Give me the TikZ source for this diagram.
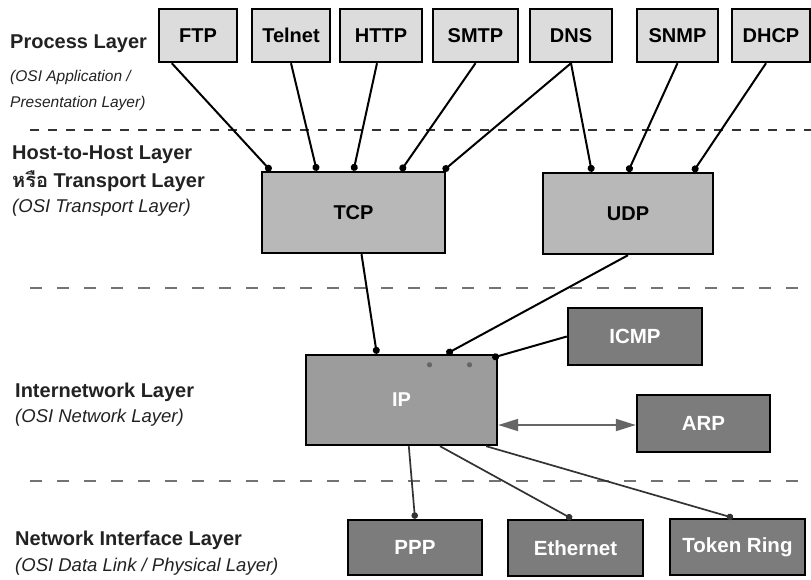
\documentclass[tikz,border=0pt]{standalone}
\usepackage{fontspec}
\setmainfont{Liberation Sans}
\newfontfamily\thaifont[Script=Thai]{Loma}
\usetikzlibrary{arrows.meta}
\definecolor{boxlight}{HTML}{DCDCDC}
\definecolor{boxmid}{HTML}{B8B8B8}
\definecolor{boxip}{HTML}{9C9C9C}
\definecolor{boxdark}{HTML}{7C7C7C}
\definecolor{labelink}{HTML}{222222}
\begin{document}
\begin{tikzpicture}[x=1pt,y=-1pt,
  box/.style={draw=black, line width=2.4pt, rectangle, inner sep=0pt,
    font=\fontsize{20}{23}\selectfont\bfseries},
  proto/.style={box, fill=boxlight, minimum height=53pt},
  transport/.style={box, fill=boxmid, minimum height=81pt},
  netbox/.style={box, fill=boxdark, text=white, minimum height=56pt,
    font=\fontsize{20.5}{23}\selectfont\bfseries},
  layername/.style={anchor=west, inner sep=0pt, text=labelink,
    font=\fontsize{20}{23}\selectfont\bfseries},
  osiname/.style={anchor=west, inner sep=0pt, text=labelink,
    font=\fontsize{18.5}{21}\selectfont\itshape},
  link/.style={draw=black, line width=2pt, -{Circle[length=7pt]}},
  lowlink/.style={draw=black!80, line width=1.7pt, -{Circle[length=6.5pt]}},
  arptip/.tip={Triangle[length=20pt,width=12pt]},
]
\useasboundingbox (0,0) rectangle (811,579);

% layer dividers
\draw[black!80, line width=1.8pt, dash pattern=on 9pt off 9pt] (30,130) -- (811,130);
\draw[black!55, line width=1.2pt, dash pattern=on 12pt off 15pt] (30,288) -- (811,288);
\draw[black!55, line width=1.2pt, dash pattern=on 12pt off 15pt] (30,481) -- (811,481);

% layer names
\node[layername] (lproc) at (10,44) {Process Layer};
\node[osiname, font=\fontsize{15.5}{18}\selectfont\itshape] (lproc1) at (10,77) {(OSI Application /};
\node[osiname, font=\fontsize{15.5}{18}\selectfont\itshape] (lproc2) at (10,103) {Presentation Layer)};
\node[layername] (lhost) at (12,155) {Host-to-Host Layer};
\node[layername] (lhost2) at (12,181) {{\thaifont\bfseries หรือ} Transport Layer};
\node[osiname] (lhost3) at (12,208) {(OSI Transport Layer)};
\node[layername] (linet) at (15,392) {Internetwork Layer};
\node[osiname] (linet2) at (15,418) {(OSI Network Layer)};
\node[layername] (lnif) at (15,540) {Network Interface Layer};
\node[osiname] (lnif2) at (15,567) {(OSI Data Link / Physical Layer)};

% application protocols
\node[proto, minimum width=78pt] (ftp) at (198,35.5) {FTP};
\node[proto, minimum width=78pt] (telnet) at (291,35.5) {Telnet};
\node[proto, minimum width=82pt] (http) at (381,35.5) {HTTP};
\node[proto, minimum width=85pt] (smtp) at (475.5,35.5) {SMTP};
\node[proto, minimum width=82pt] (dns) at (571,35.5) {DNS};
\node[proto, minimum width=81pt] (snmp) at (677.5,35.5) {SNMP};
\node[proto, minimum width=78pt] (dhcp) at (771,35.5) {DHCP};

% transport protocols
\node[transport, minimum width=183pt] (tcp) at (353.5,212.5) {TCP};
\node[transport, minimum width=170pt] (udp) at (628,213.5) {UDP};

% internet layer
\node[box, fill=boxip, text=white, minimum width=191pt, minimum height=90pt] (ip) at (401.5,400) {IP};
\node[netbox, minimum width=134pt, minimum height=57pt] (icmp) at (635,336.5) {ICMP};
\node[netbox, minimum width=133pt, minimum height=57pt] (arp) at (703.5,423.5) {ARP};

% network interfaces
\node[netbox, minimum width=134pt, minimum height=55pt] (ppp) at (415,547.5) {PPP};
\node[netbox, minimum width=135pt] (eth) at (575.5,548) {Ethernet};
\node[netbox, minimum width=135pt] (tring) at (737.5,547) {Token Ring};

% applications to transport
\draw[link] ([xshift=14pt]ftp.south west) -- ([xshift=10pt]tcp.north west);
\draw[link] (telnet.south) -- ([xshift=56pt]tcp.north west);
\draw[link] ([xshift=-4pt]http.south) -- (tcp.north);
\draw[link] (smtp.south) -- ([xshift=140pt]tcp.north west);
\draw[link] (dns.south) -- ([xshift=-3pt]tcp.north east);
\draw[link] (dns.south) -- ([xshift=50pt]udp.north west);
\draw[link] (snmp.south) -- (udp.north);
\draw[link] ([xshift=-5pt]dhcp.south) -- ([xshift=-21pt]udp.north east);

% transport to IP
\draw[link] ([xshift=8pt]tcp.south) -- ([xshift=72pt]ip.north west);
\draw[link] (udp.south) -- ([xshift=45pt]ip.north);
\draw[link] (icmp.west) -- ([xshift=-6pt,yshift=-4pt]ip.north east);
\fill[black!60] ([xshift=28pt,yshift=-11pt]ip.north) circle (2.6pt);
\fill[black!60] ([xshift=68pt,yshift=-11pt]ip.north) circle (2.6pt);

% IP and ARP
\draw[draw=black!60, fill=black!60, line width=1.8pt, arptip-arptip]
  ([yshift=-25pt]ip.east) -- ([yshift=-1.5pt]arp.west);

% IP to network interfaces
\draw[lowlink] ([xshift=104pt]ip.south west) -- (ppp.north);
\draw[lowlink] ([xshift=38.5pt]ip.south) -- ([xshift=-3.5pt]eth.north);
\draw[lowlink] ([xshift=-12pt]ip.south east) -- ([xshift=-4.5pt]tring.north);
\end{tikzpicture}
\end{document}
